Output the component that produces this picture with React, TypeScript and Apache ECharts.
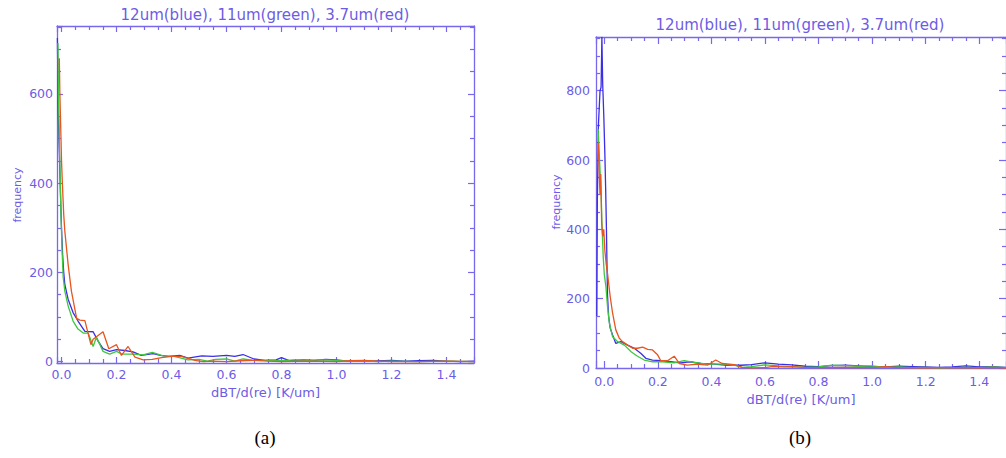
import React, { useEffect, useRef } from "react";
import * as echarts from "echarts";

// ---------- data ----------
const TITLE = "12um(blue), 11um(green), 3.7um(red)";
const X_NAME = "dBT/d(re) [K/um]";
const Y_NAME = "frequency";
const CAPTIONS = ["(a)", "(b)"];
const SERIES_NAMES = ["12um", "11um", "3.7um"];

// panel (a)
const aBlue: number[][] = [
  [-0.015, 725], [-0.012, 560], [-0.008, 470], [-0.004, 380], [0.0, 300], [0.004, 240], [0.008, 200],
  [0.012, 173], [0.024, 140], [0.042, 110], [0.06, 91], [0.085, 68], [0.115, 67], [0.133, 46],
  [0.151, 29], [0.175, 23], [0.2, 27], [0.23, 25], [0.26, 22], [0.29, 14], [0.333, 18], [0.36, 14],
  [0.39, 12], [0.43, 14], [0.46, 8], [0.51, 13], [0.55, 12], [0.6, 14], [0.63, 12], [0.66, 16],
  [0.7, 6], [0.74, 3], [0.78, 4], [0.8, 9], [0.83, 2], [0.88, 4], [0.92, 3], [0.96, 5], [1.0, 4],
  [1.04, 1], [1.08, 2], [1.12, 1], [1.2, 3], [1.25, 1], [1.3, 2], [1.35, 3], [1.4, 1], [1.45, 0], [1.5, 1],
];
const aGreen: number[][] = [
  [-0.013, 714], [-0.011, 600], [-0.008, 500], [-0.005, 420], [-0.002, 330], [0.002, 250], [0.006, 190],
  [0.012, 158], [0.024, 125], [0.042, 91], [0.06, 73], [0.079, 64], [0.097, 64], [0.115, 34],
  [0.127, 55], [0.151, 23], [0.175, 17], [0.2, 23], [0.22, 17], [0.26, 17], [0.297, 15], [0.33, 21],
  [0.37, 13], [0.41, 12], [0.46, 4], [0.5, 5], [0.53, 1], [0.56, 5], [0.6, 6], [0.63, 1], [0.66, 6],
  [0.7, 3], [0.75, 3], [0.8, 2], [0.85, 4], [0.9, 3], [0.95, 4], [1.0, 3], [1.05, 1], [1.1, 2],
  [1.15, 0], [1.2, 1], [1.3, 0], [1.4, 1], [1.5, 0],
];
const aRed: number[][] = [
  [-0.008, 680], [-0.006, 602], [-0.002, 503], [0.0, 451], [0.003, 402], [0.008, 330], [0.012, 293],
  [0.024, 218], [0.036, 158], [0.055, 97], [0.067, 93], [0.085, 92], [0.107, 38], [0.115, 50],
  [0.151, 67], [0.172, 29], [0.2, 38], [0.218, 14], [0.242, 34], [0.267, 10], [0.297, 4], [0.33, 5],
  [0.364, 9], [0.4, 12], [0.436, 12], [0.485, 3], [0.515, 0], [0.55, 1], [0.6, 0], [0.65, 2],
  [0.7, 3], [0.75, 1], [0.8, 0], [0.9, 1], [1.0, 0], [1.05, 2], [1.1, 3], [1.15, 1], [1.2, 0],
  [1.3, 0], [1.4, 1], [1.5, 0],
];

// panel (b)
const bBlue: number[][] = [
  [-0.028, 150], [-0.026, 480], [-0.022, 700], [-0.016, 800], [-0.012, 810], [-0.009, 955],
  [-0.006, 820], [-0.002, 730], [0.002, 620], [0.005, 520], [0.008, 400], [0.01, 300], [0.012, 210],
  [0.016, 150], [0.022, 115], [0.031, 95], [0.043, 71], [0.062, 76], [0.087, 66], [0.112, 57],
  [0.137, 42], [0.155, 28], [0.18, 23], [0.211, 21], [0.248, 18], [0.285, 15], [0.32, 18], [0.36, 13],
  [0.41, 11], [0.46, 8], [0.51, 8], [0.55, 10], [0.6, 15], [0.65, 11], [0.7, 9], [0.75, 5], [0.8, 4],
  [0.85, 7], [0.9, 8], [0.95, 6], [1.0, 4], [1.05, 3], [1.1, 5], [1.15, 4], [1.2, 3], [1.25, 2],
  [1.3, 3], [1.35, 6], [1.4, 3], [1.45, 4], [1.5, 2],
];
const bGreen: number[][] = [
  [-0.023, 690], [-0.019, 620], [-0.014, 540], [-0.011, 480], [-0.008, 400], [-0.004, 320], [0.0, 270],
  [0.006, 235], [0.012, 177], [0.019, 129], [0.031, 90], [0.05, 76], [0.075, 66], [0.1, 47],
  [0.124, 34], [0.149, 23], [0.18, 18], [0.217, 18], [0.26, 15], [0.298, 21], [0.335, 16], [0.385, 11],
  [0.435, 11], [0.485, 8], [0.515, 2], [0.55, 4], [0.6, 9], [0.65, 6], [0.7, 4], [0.75, 2], [0.8, 3],
  [0.85, 8], [0.9, 7], [0.95, 5], [1.0, 6], [1.05, 2], [1.1, 3], [1.15, 1], [1.2, 2], [1.25, 0],
  [1.3, 1], [1.35, 2], [1.4, 1], [1.45, 3], [1.5, 1],
];
const bRed: number[][] = [
  [-0.022, 650], [-0.019, 560], [-0.016, 500], [-0.013, 560], [-0.01, 420], [-0.006, 380],
  [-0.002, 400], [0.002, 340], [0.007, 300], [0.012, 273], [0.022, 206], [0.031, 158], [0.043, 110],
  [0.056, 86], [0.068, 76], [0.087, 66], [0.106, 57], [0.124, 57], [0.143, 60], [0.162, 54],
  [0.18, 52], [0.199, 38], [0.211, 21], [0.236, 21], [0.261, 34], [0.28, 13], [0.31, 8], [0.348, 11],
  [0.385, 8], [0.416, 23], [0.44, 13], [0.485, 10], [0.515, 2], [0.55, 0], [0.6, 1], [0.63, 5],
  [0.67, 3], [0.7, 4], [0.75, 2], [0.8, 1], [0.9, 2], [1.0, 1], [1.05, 4], [1.1, 1], [1.2, 0],
  [1.3, 1], [1.4, 0], [1.45, 2], [1.5, 0],
];

// ---------- styles ----------
const AXIS = "#7868ee";
const TEXT = "#6c5ce6";
const COLORS = ["#3a2ee6", "#3fc63f", "#e6561e"];
const FONT = "DejaVu Sans";

interface Panel {
  grid: { left: number; top: number; width: number; height: number };
  xRange: number[];
  yRange: number[];
  ySplit: number;
  series: number[][][];
  labelMarginX: number;
  labelMarginY: number;
  nameGap: number;
  tickLen: number;
  showMinY: boolean;
}

const panels: Panel[] = [
  {
    grid: { left: 57, top: 26, width: 417, height: 337 },
    xRange: [-0.0164, 1.5],
    yRange: [-3, 752],
    ySplit: 4,
    series: [aBlue, aGreen, aRed],
    labelMarginX: 5,
    labelMarginY: 4,
    nameGap: 23,
    tickLen: 6,
    showMinY: false,
  },
  {
    grid: { left: 596, top: 37, width: 411, height: 331 },
    xRange: [-0.031, 1.5],
    yRange: [0, 955],
    ySplit: 5,
    series: [bBlue, bGreen, bRed],
    labelMarginX: 7,
    labelMarginY: 6,
    nameGap: 21,
    tickLen: 7,
    showMinY: true,
  },
];

function buildOption() {
  const xAxis: any[] = [];
  const yAxis: any[] = [];
  const series: any[] = [];
  const commonLine = { show: true, onZero: false, lineStyle: { color: AXIS, width: 1.3 } };
  panels.forEach((p, g) => {
    const tick = { show: true, inside: true, length: p.tickLen, lineStyle: { color: AXIS, width: 1.2 } };
    const minor = { show: true, splitNumber: 4, length: 4, lineStyle: { color: AXIS, width: 1.2 } };
    xAxis.push({
      type: "value",
      gridIndex: g,
      position: "bottom",
      min: p.xRange[0],
      max: p.xRange[1],
      splitNumber: 7,
      axisLine: commonLine,
      axisTick: tick,
      minorTick: minor,
      splitLine: { show: false },
      axisLabel: {
        color: TEXT,
        fontFamily: FONT,
        fontSize: 12.5,
        margin: p.labelMarginX,
        showMinLabel: false,
        showMaxLabel: false,
        formatter: (v: number) => v.toFixed(1),
      },
      name: X_NAME,
      nameLocation: "middle",
      nameGap: p.nameGap,
      nameTextStyle: { color: TEXT, fontFamily: FONT, fontSize: 13 },
    });
    xAxis.push({
      type: "value",
      gridIndex: g,
      position: "top",
      min: p.xRange[0],
      max: p.xRange[1],
      splitNumber: 7,
      axisLine: commonLine,
      axisTick: tick,
      minorTick: minor,
      splitLine: { show: false },
      axisLabel: { show: false },
    });
    yAxis.push({
      type: "value",
      gridIndex: g,
      position: "left",
      min: p.yRange[0],
      max: p.yRange[1],
      splitNumber: p.ySplit,
      axisLine: commonLine,
      axisTick: tick,
      minorTick: minor,
      splitLine: { show: false },
      axisLabel: {
        color: TEXT,
        fontFamily: FONT,
        fontSize: 12.5,
        margin: p.labelMarginY,
        showMinLabel: p.showMinY,
        showMaxLabel: false,
        formatter: (v: number) => String(Math.round(v)),
      },
    });
    yAxis.push({
      type: "value",
      gridIndex: g,
      position: "right",
      min: p.yRange[0],
      max: p.yRange[1],
      splitNumber: p.ySplit,
      axisLine: commonLine,
      axisTick: tick,
      minorTick: minor,
      splitLine: { show: false },
      axisLabel: { show: false },
    });
    p.series.forEach((d, i) => {
      series.push({
        type: "line",
        name: SERIES_NAMES[i],
        xAxisIndex: 2 * g,
        yAxisIndex: 2 * g,
        data: d,
        showSymbol: false,
        symbol: "none",
        lineStyle: { color: COLORS[i], width: 1.3 },
        itemStyle: { color: COLORS[i] },
        clip: true,
        z: 2 + i,
      });
    });
  });

  const graphic: any[] = [];
  const titlePos = [
    [265, 15],
    [800, 25],
  ];
  const yNamePos = [
    [17, 195],
    [556, 202],
  ];
  const captionPos = [
    [265, 437],
    [800, 437],
  ];
  for (let g = 0; g < 2; g++) {
    graphic.push({
      type: "text",
      x: titlePos[g][0],
      y: titlePos[g][1],
      style: {
        text: TITLE,
        fill: TEXT,
        font: `15px "${FONT}"`,
        textAlign: "center",
        textVerticalAlign: "middle",
      },
    });
    graphic.push({
      type: "text",
      x: yNamePos[g][0],
      y: yNamePos[g][1],
      rotation: Math.PI / 2,
      style: {
        text: Y_NAME,
        fill: TEXT,
        font: `11px "${FONT}"`,
        textAlign: "center",
        textVerticalAlign: "middle",
      },
    });
    graphic.push({
      type: "text",
      x: captionPos[g][0],
      y: captionPos[g][1],
      style: {
        text: CAPTIONS[g],
        fill: "#000000",
        font: `19px "Liberation Serif"`,
        textAlign: "center",
        textVerticalAlign: "middle",
      },
    });
  }

  return {
    animation: false,
    backgroundColor: "#ffffff",
    grid: panels.map((p) => ({ ...p.grid, containLabel: false })),
    xAxis,
    yAxis,
    series,
    graphic,
  };
}

export default function App() {
  const ref = useRef<HTMLDivElement>(null);
  useEffect(() => {
    document.body.style.margin = "0";
    if (!ref.current) return;
    const chart = echarts.init(ref.current, undefined, { renderer: "svg" });
    chart.setOption(buildOption() as any);
    return () => {
      chart.dispose();
    };
  }, []);
  return <div ref={ref} style={{ width: 1006, height: 458, overflow: "hidden" }} />;
}
